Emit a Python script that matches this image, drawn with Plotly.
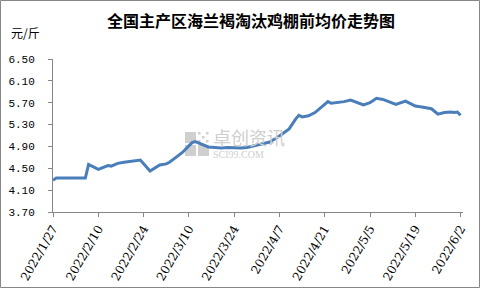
import plotly.graph_objects as go

# ---- data ----
dates = [
    "2022-01-27", "2022-01-28", "2022-02-06", "2022-02-07", "2022-02-10",
    "2022-02-13", "2022-02-14", "2022-02-16", "2022-02-18", "2022-02-21",
    "2022-02-22", "2022-02-23", "2022-02-26", "2022-03-01", "2022-03-03",
    "2022-03-04", "2022-03-06", "2022-03-08", "2022-03-10", "2022-03-11",
    "2022-03-12", "2022-03-14", "2022-03-16", "2022-03-18", "2022-03-20",
    "2022-03-22", "2022-03-24", "2022-03-26", "2022-03-28", "2022-03-30",
    "2022-04-01", "2022-04-02", "2022-04-04", "2022-04-07", "2022-04-09",
    "2022-04-10", "2022-04-12", "2022-04-13", "2022-04-14", "2022-04-16",
    "2022-04-18", "2022-04-21", "2022-04-22", "2022-04-23", "2022-04-25",
    "2022-04-27", "2022-04-29", "2022-05-01", "2022-05-03", "2022-05-05",
    "2022-05-07", "2022-05-09", "2022-05-11", "2022-05-13", "2022-05-16",
    "2022-05-17", "2022-05-19", "2022-05-21", "2022-05-24", "2022-05-26",
    "2022-05-28", "2022-05-30", "2022-05-31", "2022-06-01", "2022-06-02",
]
prices = [
    4.28, 4.32, 4.32, 4.57, 4.48,
    4.55, 4.54, 4.59, 4.61, 4.63,
    4.65, 4.65, 4.45, 4.56, 4.58,
    4.61, 4.70, 4.79, 4.91, 4.97,
    4.99, 4.94, 4.89, 4.88, 4.87,
    4.88, 4.87, 4.87, 4.88, 4.91,
    4.94, 4.95, 4.98, 5.09, 5.17,
    5.22, 5.40, 5.47, 5.44, 5.46,
    5.52, 5.67, 5.72, 5.69, 5.70,
    5.72, 5.75, 5.70, 5.66, 5.70,
    5.78, 5.76, 5.72, 5.67, 5.73,
    5.70, 5.64, 5.62, 5.59, 5.49,
    5.52, 5.53, 5.52, 5.53, 5.47,
]
tick_dates = ["2022-01-27", "2022-02-10", "2022-02-24", "2022-03-10", "2022-03-24",
              "2022-04-07", "2022-04-21", "2022-05-05", "2022-05-19", "2022-06-02"]
tick_labels = ["2022/1/27", "2022/2/10", "2022/2/24", "2022/3/10", "2022/3/24",
               "2022/4/7", "2022/4/21", "2022/5/5", "2022/5/19", "2022/6/2"]
y_ticks = [3.70, 4.10, 4.50, 4.90, 5.30, 5.70, 6.10, 6.50]

title_text = "全国主产区海兰褐淘汰鸡棚前均价走势图"
unit_text = "元/斤"

# ---- layout geometry ----
W, H = 481, 289
L, R, T, B = 53, 18, 59, 77
PW, PH = W - L - R, H - T - B

def px(x):
    return (x - L) / PW

def py(y):
    return 1 - (y - T) / PH

axis_col = "#868686"
line_col = "#4A7EBB"

fig = go.Figure()
fig.add_trace(go.Scatter(
    x=dates, y=prices, mode="lines",
    line=dict(color=line_col, width=3),
    hoverinfo="skip", showlegend=False,
))

shapes = [
    # outer border
    dict(type="rect", xref="paper", yref="paper",
         x0=px(0.5), x1=px(479.5), y0=py(287.5), y1=py(0.5),
         line=dict(color="#868686", width=1), fillcolor="rgba(0,0,0,0)", layer="below"),
]
# watermark logo blocks
wm = "#cfcfcf"
for (x0, y0, x1, y1) in [(185, 132, 196, 143), (185, 145, 196, 156), (198, 145, 209, 156)]:
    shapes.append(dict(type="rect", xref="paper", yref="paper",
                       x0=px(x0), x1=px(x1), y0=py(y1), y1=py(y0),
                       line=dict(width=0), fillcolor=wm, layer="below"))
for i in range(3):
    for j in range(3):
        if (i + j) % 2 == 0:
            x0 = 198 + i * 4
            y0 = 132 + j * 4
            shapes.append(dict(type="rect", xref="paper", yref="paper",
                               x0=px(x0), x1=px(x0 + 2.5), y0=py(y0 + 2.5), y1=py(y0),
                               line=dict(width=0), fillcolor=wm, layer="below"))

annotations = [
    dict(text=title_text, xref="paper", yref="paper", x=px(251), y=py(20),
         xanchor="center", yanchor="middle", showarrow=False,
         font=dict(family="Noto Sans CJK SC", size=16, color="#000000", weight="bold")),
    dict(text=unit_text, xref="paper", yref="paper", x=px(9), y=py(33),
         xanchor="left", yanchor="middle", showarrow=False,
         font=dict(family="Noto Sans CJK SC", size=12, color="#000000")),
    dict(text="卓创资讯", xref="paper", yref="paper", x=px(211), y=py(137),
         xanchor="left", yanchor="middle", showarrow=False,
         font=dict(family="Noto Sans CJK SC", size=18, color=wm)),
    dict(text="SCI99.COM", xref="paper", yref="paper", x=px(211), y=py(154),
         xanchor="left", yanchor="middle", showarrow=False,
         font=dict(family="Liberation Serif", size=10, color=wm)),
]

fig.update_layout(
    width=W, height=H,
    margin=dict(l=L, r=R, t=T, b=B, pad=0),
    paper_bgcolor="white", plot_bgcolor="white",
    shapes=shapes, annotations=annotations,
    xaxis=dict(
        type="date",
        range=["2022-01-27", "2022-06-02 18:00"],
        tickvals=tick_dates, ticktext=tick_labels,
        tickangle=-60,
        showgrid=False, zeroline=False,
        showline=True, linecolor=axis_col, linewidth=1,
        ticks="outside", ticklen=4, tickcolor=axis_col,
        tickfont=dict(family="DejaVu Serif", size=12, color="#000000"),
        automargin=False,
    ),
    yaxis=dict(
        range=[3.70, 6.50],
        tickvals=y_ticks, tickformat=".2f",
        showgrid=False, zeroline=False,
        showline=True, linecolor=axis_col, linewidth=1,
        ticks="outside", ticklen=4, tickcolor=axis_col,
        tickfont=dict(family="Liberation Mono", size=11, color="#000000"),
        ticklabelstandoff=11,
        automargin=False,
    ),
)

fig.write_html("out.html")
